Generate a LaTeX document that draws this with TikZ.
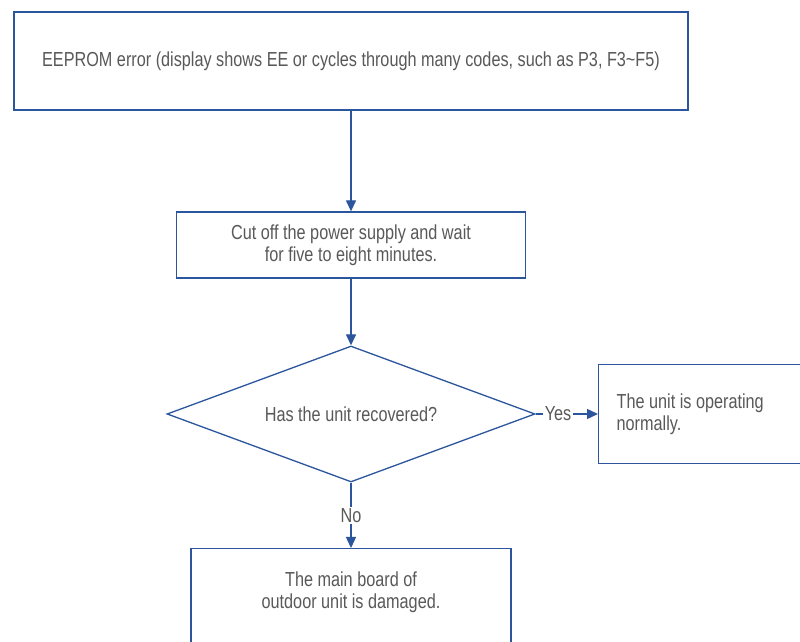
\documentclass[tikz,border=0pt]{standalone}
\usepackage{fontspec}
\setmainfont[FakeStretch=0.8]{Liberation Sans}
\usetikzlibrary{shapes.geometric,arrows.meta}
\definecolor{lineblue}{HTML}{2B559C}
\definecolor{txtgray}{HTML}{595959}
\begin{document}
\begin{tikzpicture}[x=1pt,y=1pt,
  box/.style={draw=lineblue, line width=1.3pt, rectangle, text=txtgray, align=center, inner sep=0pt},
  dec/.style={draw=lineblue, line width=1.3pt, diamond, aspect=2.7, text=txtgray, inner sep=0pt},
  conn/.style={draw=lineblue, line width=1.3pt, -{Triangle[length=11pt,width=10pt]}},
  lbl/.style={fill=white, text=txtgray, inner sep=1.5pt},
  every node/.style={font=\fontsize{20.3}{22}\selectfont}]
\useasboundingbox (0,0) rectangle (800,642);
\fill[white] (0,0) rectangle (800,642);
\node[box, minimum width=674, minimum height=98] (err) at (351,581) {EEPROM error (display shows EE or cycles through many codes, such as P3, F3\textasciitilde F5)};
\node[box, minimum width=349, minimum height=66] (cut) at (351,397) {Cut off the power supply and wait\\ for five to eight minutes.};
\node[dec, minimum width=368, minimum height=136] (rec) at (351,228) {Has the unit recovered?};
\node[box, anchor=west, minimum width=230, minimum height=99, align=flush left, text width=194, inner xsep=18pt] (ok) at (598,228) {The unit is operating\\ normally.};
\node[box, anchor=north, minimum width=320, minimum height=112] (dmg) at (351,94) {The main board of\\ outdoor unit is damaged.\\ \strut};
\draw[conn] (err.south) -- (cut.north);
\draw[conn] (cut.south) -- (rec.north);
\draw[conn] (rec.east) -- node[lbl, pos=0.36] {Yes} (ok.west);
\draw[conn] (rec.south) -- node[lbl] {No} (dmg.north);
\end{tikzpicture}
\end{document}
